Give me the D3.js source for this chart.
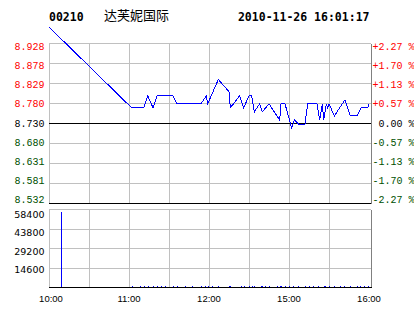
<!DOCTYPE html>
<html><head><meta charset="utf-8">
<script src="https://cdn.jsdelivr.net/npm/d3@7"></script>
<style>body{margin:0;background:#fff;}svg{display:block;}</style>
</head><body>
<svg id="chart" width="414" height="314"></svg>
<script>
// ---------- data ----------
const stockCode = "00210";
const stockName = "达芙妮国际";
const timestamp = "2010-11-26 16:01:17";
const basePrice = 8.730;
const priceTicks = [8.928, 8.878, 8.829, 8.780, 8.730, 8.680, 8.631, 8.581, 8.532];
const priceTickLabels = ["8.928", "8.878", "8.829", "8.780", "8.730", "8.680", "8.631", "8.581", "8.532"];
const pctTickLabels = ["+2.27 %", "+1.70 %", "+1.13 %", "+0.57 %", "0.00 %", "-0.57 %", "-1.13 %", "-1.70 %", "-2.27 %"];
const volTicks = [58400, 43800, 29200, 14600];
const volTickLabels = ["58400", "43800", "29200", "14600"];
const timeTicks = [0, 60, 120, 180, 240];
const timeTickLabels = ["10:00", "11:00", "12:00", "15:00", "16:00"];
const gridMinutes = [0, 30, 60, 90, 120, 150, 180, 210];

// price line (minute from open, price)
const priceMinutes = [0, 62, 71, 74, 78, 81, 93, 96, 114, 118, 119, 127, 135, 136, 143, 146, 150, 152, 154, 158, 160, 165,
  173, 174, 177, 182, 184, 187, 192, 194, 201, 203, 205, 206, 208, 209, 210, 214, 222, 226, 231, 234, 239, 240];
const prices = [8.97, 8.77, 8.77, 8.80, 8.77, 8.80, 8.80, 8.78, 8.78, 8.80, 8.78, 8.84, 8.81, 8.77, 8.80, 8.77, 8.80, 8.80, 8.76, 8.78, 8.76, 8.78,
  8.74, 8.78, 8.78, 8.72, 8.74, 8.73, 8.73, 8.78, 8.78, 8.74, 8.78, 8.74, 8.78, 8.77, 8.78, 8.75, 8.79, 8.75, 8.75, 8.77, 8.77, 8.78];

// volume bars (minute, shares)
const volMinutes = [9, 62, 68, 71, 74, 78, 81, 84, 87, 93, 96, 102, 107, 114, 117, 119, 122, 127, 135, 136, 144, 146, 150, 152, 154,
  159, 160, 162, 165, 171, 173, 174, 177, 180, 183, 187, 192, 195, 198, 202, 206, 207, 210, 214, 218, 221, 226, 231, 233, 236, 239];
const volumes = [56700, 1500, 1500, 1500, 1500, 1500, 1500, 1500, 1500, 1500, 1500, 1500, 1500, 1500, 1500, 1500, 1500, 1500, 1500, 1500, 1500, 1500, 1500, 1500, 1500,
  1500, 1500, 1500, 1500, 1500, 1500, 1500, 1500, 1500, 1500, 1500, 1500, 1500, 1500, 1500, 1500, 1500, 1500, 1500, 1500, 1500, 1500, 1500, 1500, 1500, 1500];

// ---------- layout ----------
const L = 49, R = 371;
const pTop = 44, pBot = 204, vTop = 210, vBot = 288;
const svg = d3.select("#chart");

const x = d3.scaleLinear().domain([0, 240]).range([49, 369]);
const yP = d3.scaleLinear().domain([8.532, 8.928]).range([pBot, pTop]);
const yV = d3.scaleLinear().domain([0, 58400]).range([vBot, vTop]);

const grid = "#c0c0c0";
const red = "#ff0000", green = "#005000";
const snapY = v => Math.round(v) - 0.5;
const snapX = v => Math.round(v) + 0.5;

// ---------- header ----------
svg.append("text").attr("x", 49).attr("y", 21)
  .attr("font-family", "DejaVu Sans Mono").attr("font-weight", "bold").attr("font-size", 11.5)
  .text(stockCode);
svg.append("text").attr("x", 104).attr("y", 20)
  .attr("font-family", "Noto Sans CJK SC").attr("font-size", 13)
  .text(stockName);
svg.append("text").attr("x", 369.5).attr("y", 21).attr("text-anchor", "end")
  .attr("font-family", "DejaVu Sans Mono").attr("font-weight", "bold").attr("font-size", 11.5)
  .text(timestamp);

const g = svg.append("g").attr("shape-rendering", "crispEdges");

// ---------- price panel grid ----------
g.selectAll("line.ph").data(priceTicks).enter().append("line")
  .attr("x1", L).attr("x2", R)
  .attr("y1", d => snapY(yP(d))).attr("y2", d => snapY(yP(d)))
  .attr("stroke", (d, i) => (i === 4 || i === priceTicks.length - 1) ? "#000" : grid);
g.selectAll("line.pv").data(gridMinutes).enter().append("line")
  .attr("x1", d => snapX(x(d))).attr("x2", d => snapX(x(d)))
  .attr("y1", snapY(yP(priceTicks[0]))).attr("y2", snapY(yP(priceTicks[8])))
  .attr("stroke", grid);
// re-draw black lines over vertical grid
g.selectAll("line.pb").data([priceTicks[4], priceTicks[8]]).enter().append("line")
  .attr("x1", L).attr("x2", R + 0.5)
  .attr("y1", d => snapY(yP(d))).attr("y2", d => snapY(yP(d)))
  .attr("stroke", "#000");
g.append("line").attr("x1", R + 0.5).attr("x2", R + 0.5)
  .attr("y1", snapY(yP(priceTicks[0]))).attr("y2", snapY(yP(priceTicks[8])))
  .attr("stroke", "#808080");

// ---------- volume panel grid ----------
g.selectAll("line.vh").data(volTicks).enter().append("line")
  .attr("x1", L).attr("x2", R)
  .attr("y1", d => snapY(yV(d)) + (d === volTicks[0] ? 0 : 0)).attr("y2", d => snapY(yV(d)))
  .attr("stroke", grid);
g.selectAll("line.vv").data(gridMinutes).enter().append("line")
  .attr("x1", d => snapX(x(d))).attr("x2", d => snapX(x(d)))
  .attr("y1", snapY(yV(volTicks[0]))).attr("y2", snapY(yV(0)))
  .attr("stroke", grid);
g.append("line").attr("x1", R + 0.5).attr("x2", R + 0.5)
  .attr("y1", snapY(yV(volTicks[0]))).attr("y2", snapY(yV(0)))
  .attr("stroke", "#808080");

// ---------- volume bars ----------
const volData = volMinutes.map((m, i) => ({ m, v: volumes[i] }));
g.selectAll("rect.vol").data(volData).enter().append("rect")
  .attr("x", d => Math.round(x(d.m)))
  .attr("width", 1)
  .attr("y", d => Math.round(yV(d.v)))
  .attr("height", d => Math.round(yV(0)) - Math.round(yV(d.v)))
  .attr("fill", "#0000ff");

g.append("line").attr("x1", L).attr("x2", R + 1)
  .attr("y1", snapY(yV(0))).attr("y2", snapY(yV(0)))
  .attr("stroke", "#000");

// ---------- price line ----------
const priceData = priceMinutes.map((m, i) => ({ m, p: prices[i] }));
const line = d3.line().x(d => x(d.m)).y(d => yP(d.p));
svg.append("path").datum(priceData).attr("d", line)
  .attr("fill", "none").attr("stroke", "#0000ff").attr("stroke-width", 1)
  .attr("shape-rendering", "crispEdges");

// ---------- labels ----------
const labelBaseline = (d, i) => yP(d) + 6 - i * 0.83;
svg.selectAll("text.pl").data(priceTicks).enter().append("text")
  .attr("x", 44.5).attr("y", labelBaseline).attr("text-anchor", "end")
  .attr("font-family", "Liberation Mono").attr("font-size", 10)
  .attr("fill", (d, i) => d > basePrice + 1e-6 ? red : (Math.abs(d - basePrice) < 1e-6 ? "#000" : green))
  .text((d, i) => priceTickLabels[i]);
svg.selectAll("text.pr").data(priceTicks).enter().append("text")
  .attr("x", 414.5).attr("y", labelBaseline).attr("text-anchor", "end")
  .attr("font-family", "Liberation Mono").attr("font-size", 10)
  .attr("fill", (d, i) => d > basePrice + 1e-6 ? red : (Math.abs(d - basePrice) < 1e-6 ? "#000" : green))
  .text((d, i) => pctTickLabels[i]);

svg.selectAll("text.vl").data(volTicks).enter().append("text")
  .attr("x", 44.5).attr("y", (d, i) => yV(d) + 8 - i * 1.1).attr("text-anchor", "end")
  .attr("font-family", "DejaVu Sans").attr("font-size", 9.5)
  .text((d, i) => volTickLabels[i]);

svg.selectAll("text.tl").data(timeTicks).enter().append("text")
  .attr("x", d => Math.max(x(d), 51)).attr("y", 302).attr("text-anchor", "middle")
  .attr("font-family", "Liberation Sans").attr("font-size", 9.5)
  .text((d, i) => timeTickLabels[i]);
</script>
</body></html>
